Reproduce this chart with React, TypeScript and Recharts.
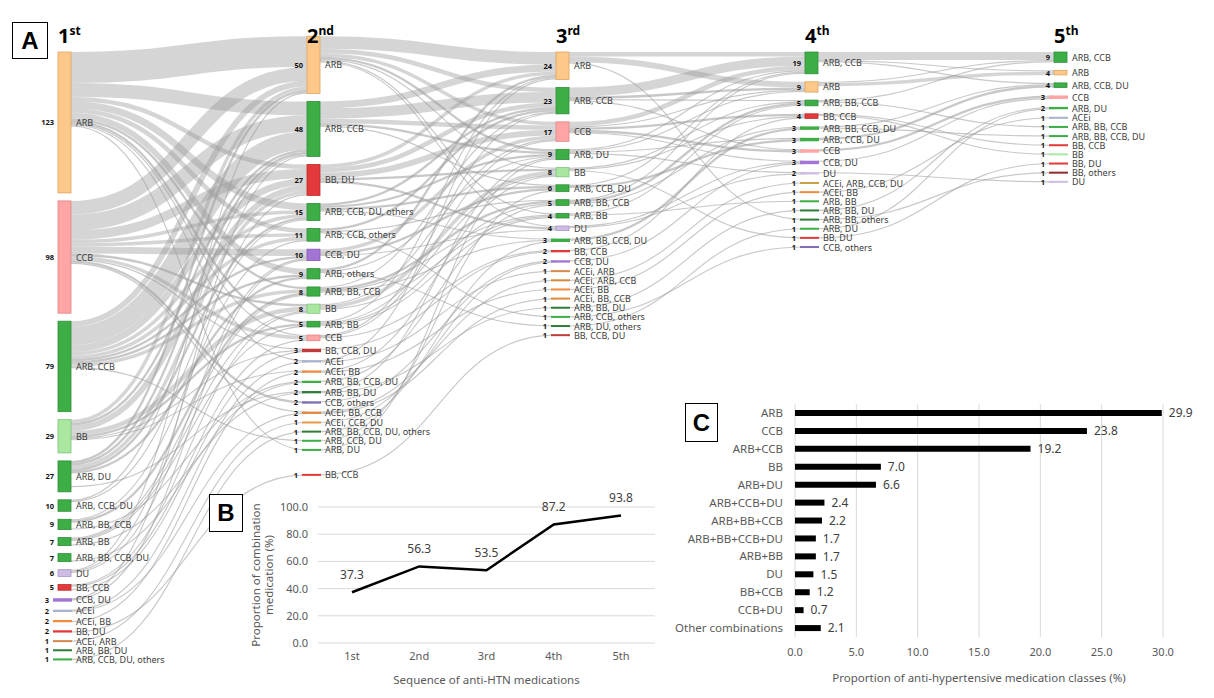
import React from 'react';
import { Sankey, LineChart, Line, XAxis, YAxis, CartesianGrid, LabelList, BarChart, Bar, Label } from 'recharts';

// ---------------- Panel A : Sankey data ----------------
const COL1_NAMES = ['ARB', 'CCB', 'ARB, CCB', 'BB', 'ARB, DU', 'ARB, CCB, DU', 'ARB, BB, CCB', 'ARB, BB', 'ARB, BB, CCB, DU', 'DU', 'BB, CCB', 'CCB, DU', 'ACEi', 'ACEi, BB', 'BB, DU', 'ACEi, ARB', 'ARB, BB, DU', 'ARB, CCB, DU, others'];
const COL1_COUNTS = [123, 98, 79, 29, 27, 10, 9, 7, 7, 6, 5, 3, 2, 2, 2, 1, 1, 1];

const COL2_NAMES = ['ARB', 'ARB, CCB', 'BB, DU', 'ARB, CCB, DU, others', 'ARB, CCB, others', 'CCB, DU', 'ARB, others', 'ARB, BB, CCB', 'BB', 'ARB, BB', 'CCB', 'BB, CCB, DU', 'ACEi', 'ACEi, BB', 'ARB, BB, CCB, DU', 'ARB, BB, DU', 'CCB, others', 'ACEi, BB, CCB', 'ACEi, CCB, DU', 'ARB, BB, CCB, DU, others', 'ARB, CCB, DU', 'ARB, DU', 'BB, CCB'];
const COL2_COUNTS = [50, 48, 27, 15, 11, 10, 9, 8, 8, 5, 5, 3, 2, 2, 2, 2, 2, 2, 1, 1, 1, 1, 1];

const COL3_NAMES = ['ARB', 'ARB, CCB', 'CCB', 'ARB, DU', 'BB', 'ARB, CCB, DU', 'ARB, BB, CCB', 'ARB, BB', 'DU', 'ARB, BB, CCB, DU', 'BB, CCB', 'CCB, DU', 'ACEi, ARB', 'ACEi, ARB, CCB', 'ACEi, BB', 'ACEi, BB, CCB', 'ARB, BB, DU', 'ARB, CCB, others', 'ARB, DU, others', 'BB, CCB, DU'];
const COL3_COUNTS = [24, 23, 17, 9, 8, 6, 5, 4, 4, 3, 2, 2, 1, 1, 1, 1, 1, 1, 1, 1];

const COL4_NAMES = ['ARB, CCB', 'ARB', 'ARB, BB, CCB', 'BB, CCB', 'ARB, BB, CCB, DU', 'ARB, CCB, DU', 'CCB', 'CCB, DU', 'DU', 'ACEi, ARB, CCB, DU', 'ACEi, BB', 'ARB, BB', 'ARB, BB, DU', 'ARB, BB, others', 'ARB, DU', 'BB, DU', 'CCB, others'];
const COL4_COUNTS = [19, 9, 5, 4, 3, 3, 3, 3, 2, 1, 1, 1, 1, 1, 1, 1, 1];

const COL5_NAMES = ['ARB, CCB', 'ARB', 'ARB, CCB, DU', 'CCB', 'ARB, DU', 'ACEi', 'ARB, BB, CCB', 'ARB, BB, CCB, DU', 'BB, CCB', 'BB', 'BB, DU', 'BB, others', 'DU'];
const COL5_COUNTS = [9, 4, 4, 3, 2, 1, 1, 1, 1, 1, 1, 1, 1];

type Flow = [string, string, number];

const FLOW_1_2: Flow[] = [
  ['ARB', 'ARB', 27], ['ARB', 'ARB, CCB', 12], ['ARB', 'BB, DU', 4], ['ARB', 'ARB, CCB, DU, others', 6], ['ARB', 'ARB, CCB, others', 4], ['ARB', 'ARB, others', 5], ['ARB', 'ARB, BB, CCB', 2], ['ARB', 'ARB, BB', 2], ['ARB', 'CCB', 1], ['ARB', 'ACEi', 1], ['ARB', 'ARB, DU', 1],
  ['CCB', 'ARB', 12], ['CCB', 'ARB, CCB', 14], ['CCB', 'BB, DU', 8], ['CCB', 'ARB, CCB, DU, others', 3], ['CCB', 'ARB, CCB, others', 3], ['CCB', 'CCB, DU', 6], ['CCB', 'BB', 2], ['CCB', 'CCB', 3], ['CCB', 'BB, CCB, DU', 1], ['CCB', 'CCB, others', 2], ['CCB', 'ACEi, BB, CCB', 1],
  ['ARB, CCB', 'ARB', 5], ['ARB, CCB', 'ARB, CCB', 16], ['ARB, CCB', 'BB, DU', 6], ['ARB, CCB', 'ARB, CCB, DU, others', 3], ['ARB, CCB', 'ARB, CCB, others', 3], ['ARB, CCB', 'CCB, DU', 2], ['ARB, CCB', 'ARB, others', 2], ['ARB, CCB', 'ARB, BB, CCB', 3], ['ARB, CCB', 'ARB, CCB, DU', 1],
  ['BB', 'ARB', 3], ['BB', 'ARB, CCB', 2], ['BB', 'BB, DU', 5], ['BB', 'BB', 4], ['BB', 'ARB, BB', 2], ['BB', 'BB, CCB, DU', 1], ['BB', 'ACEi, BB', 1],
  ['ARB, DU', 'ARB', 2], ['ARB, DU', 'ARB, CCB', 2], ['ARB, DU', 'BB, DU', 3], ['ARB, DU', 'ARB, CCB, DU, others', 2], ['ARB, DU', 'ARB, others', 2], ['ARB, DU', 'ARB, BB, DU', 1],
  ['ARB, CCB, DU', 'ARB, CCB', 1], ['ARB, CCB, DU', 'ARB, CCB, DU, others', 1],
  ['ARB, BB, CCB', 'ARB, CCB, others', 1], ['ARB, BB, CCB', 'ARB, BB, CCB', 2], ['ARB, BB, CCB', 'ARB, BB, CCB, DU', 1],
  ['ARB, BB', 'ARB, BB, CCB', 1], ['ARB, BB', 'BB', 1], ['ARB, BB', 'ARB, BB', 1], ['ARB, BB', 'ARB, BB, DU', 1],
  ['ARB, BB, CCB, DU', 'ARB, BB, CCB, DU', 1],
  ['DU', 'ARB', 1], ['DU', 'BB, DU', 1], ['DU', 'CCB, DU', 1],
  ['BB, CCB', 'BB', 1], ['BB, CCB', 'CCB', 1], ['BB, CCB', 'BB, CCB, DU', 1],
  ['CCB, DU', 'ARB, CCB', 1], ['CCB, DU', 'CCB, DU', 1],
  ['ACEi', 'ACEi', 1], ['ACEi', 'ACEi, BB, CCB', 1],
  ['ACEi, BB', 'ACEi, BB', 1],
  ['BB, DU', 'BB, CCB', 1],
  ['ACEi, ARB', 'ACEi, CCB, DU', 1],
  ['ARB, CCB, DU, others', 'ARB, BB, CCB, DU, others', 1],
];

const FLOW_2_3: Flow[] = [
  ['ARB', 'ARB', 11], ['ARB', 'ARB, CCB', 4], ['ARB', 'CCB', 3], ['ARB', 'ARB, DU', 2], ['ARB', 'BB', 1], ['ARB', 'ARB, BB', 1], ['ARB', 'DU', 1],
  ['ARB, CCB', 'ARB', 6], ['ARB, CCB', 'ARB, CCB', 9], ['ARB, CCB', 'CCB', 4], ['ARB, CCB', 'ARB, DU', 2], ['ARB, CCB', 'ARB, CCB, DU', 1],
  ['BB, DU', 'ARB', 3], ['BB, DU', 'ARB, CCB', 4], ['BB, DU', 'CCB', 5], ['BB, DU', 'BB', 2], ['BB, DU', 'DU', 2],
  ['ARB, CCB, DU, others', 'ARB, CCB', 2], ['ARB, CCB, DU, others', 'ARB, DU', 2], ['ARB, CCB, DU, others', 'ARB, CCB, DU', 2], ['ARB, CCB, DU, others', 'ARB, BB, CCB, DU', 1],
  ['ARB, CCB, others', 'ARB, CCB', 2], ['ARB, CCB, others', 'ARB, BB, CCB', 1], ['ARB, CCB, others', 'ARB, CCB, others', 1],
  ['CCB, DU', 'CCB', 3], ['CCB, DU', 'ARB, CCB, DU', 2], ['CCB, DU', 'DU', 1],
  ['ARB, others', 'ARB', 2], ['ARB, others', 'ARB, DU', 1], ['ARB, others', 'ARB, DU, others', 1],
  ['ARB, BB, CCB', 'ARB, CCB', 1], ['ARB, BB, CCB', 'ARB, BB, CCB', 2], ['ARB, BB, CCB', 'ARB, BB', 1], ['ARB, BB, CCB', 'ARB, BB, CCB, DU', 1],
  ['BB', 'CCB', 1], ['BB', 'BB', 3], ['BB', 'ARB, BB', 1],
  ['ARB, BB', 'ARB', 1], ['ARB, BB', 'BB', 1], ['ARB, BB', 'ARB, BB, CCB', 1], ['ARB, BB', 'ARB, BB', 1],
  ['CCB', 'ARB, CCB', 1], ['CCB', 'CCB', 1], ['CCB', 'BB, CCB', 1],
  ['BB, CCB, DU', 'BB, CCB', 1],
  ['ACEi', 'ARB', 1], ['ACEi', 'ACEi, ARB', 1],
  ['ACEi, BB', 'BB', 1], ['ACEi, BB', 'ACEi, BB', 1],
  ['ARB, BB, CCB, DU', 'ARB, BB, CCB', 1],
  ['ARB, BB, DU', 'ARB, DU', 1], ['ARB, BB, DU', 'ARB, BB, DU', 1],
  ['CCB, others', 'CCB, DU', 1],
  ['ACEi, BB, CCB', 'ACEi, ARB, CCB', 1], ['ACEi, BB, CCB', 'ACEi, BB, CCB', 1],
  ['ACEi, CCB, DU', 'CCB, DU', 1],
  ['ARB, BB, CCB, DU, others', 'ARB, BB, CCB, DU', 1],
  ['ARB, CCB, DU', 'ARB, CCB, DU', 1],
  ['ARB, DU', 'ARB, DU', 1],
  ['BB, CCB', 'BB, CCB, DU', 1],
];

const FLOW_3_4: Flow[] = [
  ['ARB', 'ARB, CCB', 4], ['ARB', 'ARB', 5], ['ARB', 'ARB, BB, others', 1],
  ['ARB, CCB', 'ARB, CCB', 8], ['ARB, CCB', 'ARB', 2], ['ARB, CCB', 'ARB, BB, CCB', 1], ['ARB, CCB', 'CCB', 1],
  ['CCB', 'ARB, CCB', 4], ['CCB', 'ARB', 1], ['CCB', 'BB, CCB', 2], ['CCB', 'CCB', 2], ['CCB', 'CCB, DU', 1],
  ['ARB, DU', 'ARB, CCB', 1], ['ARB, DU', 'ARB', 1], ['ARB, DU', 'ARB, CCB, DU', 1], ['ARB, DU', 'DU', 1],
  ['BB', 'ARB, BB, CCB', 1], ['BB', 'BB, CCB', 1], ['BB', 'BB, DU', 1],
  ['ARB, CCB, DU', 'ARB, CCB', 1], ['ARB, CCB, DU', 'ARB, CCB, DU', 2],
  ['ARB, BB, CCB', 'ARB, CCB', 1], ['ARB, BB, CCB', 'ARB, BB, CCB', 2], ['ARB, BB, CCB', 'ARB, BB, CCB, DU', 1],
  ['ARB, BB', 'ARB, BB, CCB', 1], ['ARB, BB', 'ARB, BB', 1],
  ['DU', 'CCB, DU', 1], ['DU', 'DU', 1],
  ['ARB, BB, CCB, DU', 'ARB, BB, CCB, DU', 2],
  ['BB, CCB', 'BB, CCB', 1],
  ['CCB, DU', 'CCB, DU', 1],
  ['ACEi, ARB, CCB', 'ACEi, ARB, CCB, DU', 1],
  ['ACEi, BB', 'ACEi, BB', 1],
  ['ARB, BB, DU', 'ARB, BB, DU', 1],
  ['ARB, CCB, others', 'CCB, others', 1],
  ['ARB, DU, others', 'ARB, DU', 1],
];

const FLOW_4_5: Flow[] = [
  ['ARB, CCB', 'ARB, CCB', 7], ['ARB, CCB', 'ARB', 1], ['ARB, CCB', 'ARB, CCB, DU', 1],
  ['ARB', 'ARB, CCB', 1], ['ARB', 'ARB', 3],
  ['ARB, BB, CCB', 'ARB, CCB', 1], ['ARB, BB, CCB', 'ARB, BB, CCB', 1],
  ['BB, CCB', 'BB, CCB', 1], ['BB, CCB', 'BB', 1],
  ['ARB, BB, CCB, DU', 'ARB, CCB, DU', 1], ['ARB, BB, CCB, DU', 'ARB, BB, CCB, DU', 1],
  ['ARB, CCB, DU', 'ARB, CCB, DU', 2],
  ['CCB', 'CCB', 2],
  ['CCB, DU', 'CCB', 1],
  ['DU', 'DU', 1],
  ['ACEi, BB', 'ACEi', 1],
  ['ARB, BB, DU', 'ARB, DU', 1],
  ['ARB, BB, others', 'BB, others', 1],
  ['ARB, DU', 'ARB, DU', 1],
  ['BB, DU', 'BB, DU', 1],
];

const STAGE_SUFFIX: [string, string][] = [['1', 'st'], ['2', 'nd'], ['3', 'rd'], ['4', 'th'], ['5', 'th']];

// ---------------- Panel B data ----------------
const STAGES = ['1st', '2nd', '3rd', '4th', '5th'];
const COMBO_PCT = [37.3, 56.3, 53.5, 87.2, 93.8];
const B_TICKS = [0, 20, 40, 60, 80, 100];

// ---------------- Panel C data ----------------
const CLASS_NAMES = ['ARB', 'CCB', 'ARB+CCB', 'BB', 'ARB+DU', 'ARB+CCB+DU', 'ARB+BB+CCB', 'ARB+BB+CCB+DU', 'ARB+BB', 'DU', 'BB+CCB', 'CCB+DU', 'Other combinations'];
const CLASS_PCT = [29.9, 23.8, 19.2, 7.0, 6.6, 2.4, 2.2, 1.7, 1.7, 1.5, 1.2, 0.7, 2.1];
const C_TICKS = [0, 5, 10, 15, 20, 25, 30];

// ---------------- styles ----------------
const GREEN: [string, string] = ['#3DAE46', '#2F8E37'];
const DKGREEN: [string, string] = ['#2E7D3A', '#2E7D3A'];
const NODE_COLORS: Record<string, [string, string]> = {
  'ARB': ['#FDC98B', '#E2A25A'],
  'CCB': ['#FFA5A5', '#E08585'],
  'ARB, CCB': GREEN,
  'BB': ['#AAE8A2', '#7DC27A'],
  'ARB, DU': GREEN,
  'ARB, CCB, DU': GREEN,
  'ARB, BB, CCB': GREEN,
  'ARB, BB': GREEN,
  'ARB, BB, CCB, DU': GREEN,
  'ARB, CCB, others': GREEN,
  'ARB, others': GREEN,
  'ARB, CCB, DU, others': GREEN,
  'DU': ['#CDBCE3', '#A895C4'],
  'BB, CCB': ['#E23A3A', '#C02A2A'],
  'BB, DU': ['#E23A3A', '#C02A2A'],
  'CCB, DU': ['#A274D4', '#8558B8'],
  'ACEi': ['#A8B2CF', '#8890B0'],
  'ACEi, BB': ['#EF8A3E', '#D0702A'],
  'ACEi, ARB': ['#D8874A', '#B8703A'],
  'ACEi, BB, CCB': ['#E2883A', '#C0702A'],
  'ACEi, CCB, DU': ['#E89A4A', '#C8803A'],
  'ACEi, ARB, CCB': ['#D48A3E', '#B4702E'],
  'ACEi, ARB, CCB, DU': ['#C9A045', '#A98530'],
  'ARB, BB, DU': DKGREEN,
  'ARB, BB, CCB, DU, others': DKGREEN,
  'ARB, DU, others': DKGREEN,
  'ARB, BB, others': DKGREEN,
  'BB, CCB, DU': ['#C23A3C', '#A02A2C'],
  'CCB, others': ['#7E6CB8', '#65559A'],
  'BB, others': ['#8E2E2E', '#8E2E2E'],
};

const FONT = "'Noto Sans', 'DejaVu Sans', sans-serif";

const SK_W = 1214;
const SK_H = 698;
const NODE_PAD = 8;
const SK_MARGIN = { top: 52 - NODE_PAD, left: 58, right: 147, bottom: 38 };
const NODE_W = 13;
const EPS = 0.01;

// Builds the Sankey input. Each column gets an invisible tiny spacer on top and an
// invisible spacer at the bottom (fed by the patients who stopped treatment), so that
// every column fills the plot height and the library stacks the visible nodes from the top.
function buildSankey() {
  const columns = [
    { names: COL1_NAMES, counts: COL1_COUNTS },
    { names: COL2_NAMES, counts: COL2_COUNTS },
    { names: COL3_NAMES, counts: COL3_COUNTS },
    { names: COL4_NAMES, counts: COL4_COUNTS },
    { names: COL5_NAMES, counts: COL5_COUNTS },
  ];
  const flows = [FLOW_1_2, FLOW_2_3, FLOW_3_4, FLOW_4_5];
  const nodes: any[] = [];
  const index: Record<string, number>[] = [];
  const top: number[] = [];
  columns.forEach((col, c) => {
    top[c] = nodes.length;
    nodes.push({ name: '', dummy: true });
    index[c] = {};
    col.names.forEach((n) => {
      index[c][n] = nodes.length;
      nodes.push({ name: n, stage: c });
    });
  });
  const links: any[] = [];
  flows.forEach((fl, c) => {
    fl.forEach(([s, t, v]) => {
      links.push({ source: index[c][s], target: index[c + 1][t], value: v });
    });
  });

  const spacer: number[] = [];
  for (let d = 1; d <= 4; d++) {
    spacer[d] = nodes.length;
    nodes.push({ name: '', dummy: true });
  }
  const H = SK_H - SK_MARGIN.top - SK_MARGIN.bottom;
  const sums = columns.map((c) => c.counts.reduce((a, b) => a + b, 0));
  const r = (H - columns[0].names.length * NODE_PAD) / sums[0];
  const F: number[] = [0];
  for (let d = 1; d <= 4; d++) F[d] = (H - (columns[d].names.length + 1) * NODE_PAD) / r - sums[d];

  const drops: { src: number; amt: number; stage: number }[] = [];
  flows.forEach((fl, c) => {
    columns[c].names.forEach((n, i) => {
      const out = fl.filter((f) => f[0] === n).reduce((a, f) => a + f[2], 0);
      const rest = columns[c].counts[i] - out;
      if (rest > 0) drops.push({ src: index[c][n], amt: rest, stage: c });
    });
  });
  const d4 = drops.filter((d) => d.stage === 3).reduce((a, d) => a + d.amt, 0);
  const s = Math.max(0, F[4] - F[3] - d4);
  const cap: number[] = [0, F[1], F[2] - (F[1] - s), F[3] - F[2]];
  const addDrop = (src: number, amt: number, minDepth: number) => {
    let left = amt;
    for (let d = minDepth; d <= 3 && left > 1e-9; d++) {
      const take = Math.min(left, cap[d]);
      if (take > 1e-9) {
        links.push({ source: src, target: spacer[d], value: take, hidden: true });
        cap[d] -= take;
        left -= take;
      }
    }
    if (left > 1e-9) links.push({ source: src, target: spacer[4], value: left, hidden: true });
  };
  drops.filter((d) => d.stage === 2).forEach((d) => addDrop(d.src, d.amt, 3));
  drops.filter((d) => d.stage === 0).forEach((d) => addDrop(d.src, d.amt, 1));
  drops.filter((d) => d.stage === 1).forEach((d) => addDrop(d.src, d.amt, 2));
  drops.filter((d) => d.stage === 3).forEach((d) => links.push({ source: d.src, target: spacer[4], value: d.amt, hidden: true }));
  links.push({ source: spacer[1], target: spacer[2], value: F[1] - s, hidden: true });
  if (s > 0) links.push({ source: spacer[1], target: spacer[4], value: s, hidden: true });
  links.push({ source: spacer[2], target: spacer[3], value: F[2], hidden: true });
  links.push({ source: spacer[3], target: spacer[4], value: F[3], hidden: true });

  const lastCol1 = index[0][COL1_NAMES[COL1_NAMES.length - 1]];
  links.push({ source: top[0], target: spacer[1], value: EPS, hidden: true });
  links.push({ source: lastCol1, target: top[1], value: EPS, hidden: true });
  links.push({ source: top[1], target: spacer[2], value: EPS, hidden: true });
  links.push({ source: spacer[1], target: top[2], value: EPS, hidden: true });
  links.push({ source: top[2], target: spacer[3], value: EPS, hidden: true });
  links.push({ source: spacer[2], target: top[3], value: EPS, hidden: true });
  links.push({ source: top[3], target: spacer[4], value: EPS, hidden: true });
  links.push({ source: spacer[3], target: top[4], value: EPS, hidden: true });
  return { nodes, links };
}

const SANKEY_DATA = buildSankey();

const renderNode = (props: any) => {
  const { x, y, width, height, payload } = props;
  if (!payload || payload.dummy) return <g />;
  const v = Math.round(payload.value);
  const [fill, stroke] = NODE_COLORS[payload.name] || GREEN;
  const small = v <= 3;
  const rx = small ? x - 5 : x;
  const rw = small ? width + 6 : width;
  const rh = Math.max(height, 2);
  const cy = y + height / 2;
  return (
    <g>
      <rect x={rx} y={cy - rh / 2} width={rw} height={rh} fill={fill} stroke={small ? 'none' : stroke} strokeWidth={0.8} />
      <text x={rx - 4} y={cy} textAnchor="end" dominantBaseline="central" fontSize={7.5} fontWeight={700} fill="#111" fontFamily={FONT}>{v}</text>
      <text x={x + width + 5} y={cy} textAnchor="start" dominantBaseline="central" fontSize={9} fill="#3c3c3c" fontFamily={FONT}>{payload.name}</text>
    </g>
  );
};

const renderLink = (props: any) => {
  const { sourceX, sourceY, sourceControlX, targetX, targetY, targetControlX, linkWidth, payload } = props;
  if (!payload || payload.hidden || (payload.target && payload.target.dummy) || (payload.source && payload.source.dummy)) return <g />;
  const thin = linkWidth < 3;
  return (
    <path
      d={`M${sourceX},${sourceY}C${sourceControlX},${sourceY} ${targetControlX},${targetY} ${targetX},${targetY}`}
      fill="none"
      stroke="#9a9a9a"
      strokeOpacity={thin ? 0.55 : 0.42}
      strokeWidth={Math.max(linkWidth, 1)}
    />
  );
};

const renderYTitle = (props: any) => {
  const vb = props.viewBox || { x: 0, y: 22, width: 78, height: 136 };
  const cy = vb.y + vb.height / 2;
  const x1 = vb.x + 15;
  const x2 = vb.x + 28;
  return (
    <g>
      <text x={x1} y={cy} transform={`rotate(-90, ${x1}, ${cy})`} textAnchor="middle" dominantBaseline="central" fontSize={11.5} fill="#595959" fontFamily={FONT}>Proportion of combination</text>
      <text x={x2} y={cy} transform={`rotate(-90, ${x2}, ${cy})`} textAnchor="middle" dominantBaseline="central" fontSize={11.5} fill="#595959" fontFamily={FONT}>medication (%)</text>
    </g>
  );
};

const boxStyle = (left: number, top: number, w: number, h: number): React.CSSProperties => ({
  position: 'absolute', left, top, width: w, height: h, border: '1.5px solid #000', boxSizing: 'border-box',
  display: 'flex', alignItems: 'center', justifyContent: 'center', fontFamily: "'Liberation Sans', Arial, sans-serif",
  fontWeight: 700, fontSize: 24, color: '#000', background: '#fff',
});

export default function App() {
  const lineData = STAGES.map((s, i) => ({ stage: s, pct: COMBO_PCT[i] }));
  const barData = CLASS_NAMES.map((n, i) => ({ name: n, pct: CLASS_PCT[i] }));
  const colStep = (SK_W - SK_MARGIN.left - SK_MARGIN.right - NODE_W) / 4;
  const tickStyle = { fontSize: 11, fill: '#595959', fontFamily: FONT };
  return (
    <div style={{ position: 'absolute', left: 0, top: 0, width: 1214, height: 698, background: '#fff', fontFamily: FONT, overflow: 'hidden' }}>
      <div style={{ position: 'absolute', left: 0, top: 0 }}>
        <Sankey
          width={SK_W}
          height={SK_H}
          data={SANKEY_DATA}
          margin={SK_MARGIN}
          nodeWidth={NODE_W}
          nodePadding={NODE_PAD}
          sort={false}
          node={renderNode}
          link={renderLink}
        />
      </div>

      {STAGE_SUFFIX.map(([d, s], i) => (
        <div key={d} style={{ position: 'absolute', left: SK_MARGIN.left + i * colStep, top: 22, fontFamily: FONT, fontWeight: 700, color: '#000', whiteSpace: 'nowrap' }}>
          <span style={{ fontSize: 20 }}>{d}</span>
          <span style={{ fontSize: 12, position: 'relative', top: -8 }}>{s}</span>
        </div>
      ))}

      <div style={boxStyle(12, 22, 36, 37)}>A</div>

      <div style={{ position: 'absolute', left: 240, top: 485 }}>
        <LineChart width={420} height={210} data={lineData} margin={{ top: 22, right: 5, bottom: 0, left: 0 }}>
          <CartesianGrid vertical={false} stroke="#d9d9d9" />
          <XAxis dataKey="stage" axisLine={false} tickLine={false} height={52} tickMargin={3} tick={tickStyle} padding={{ left: 34, right: 34 }}>
            <Label value="Sequence of anti-HTN medications" position="insideBottom" offset={11} style={{ fontSize: 11.5, fill: '#595959', fontFamily: FONT }} />
          </XAxis>
          <YAxis domain={[0, 100]} ticks={B_TICKS} tickFormatter={(v: number) => v.toFixed(1)} axisLine={false} tickLine={false} width={78} tickMargin={4} tick={tickStyle}>
            <Label content={renderYTitle} />
          </YAxis>
          <Line dataKey="pct" stroke="#000" strokeWidth={2.5} dot={false} isAnimationActive={false}>
            <LabelList dataKey="pct" position="top" offset={13} formatter={(v: any) => Number(v).toFixed(1)} style={{ fontSize: 12, fill: '#404040', fontFamily: FONT }} />
          </Line>
        </LineChart>
      </div>
      <div style={boxStyle(209, 494, 34, 38)}>B</div>

      <div style={{ position: 'absolute', left: 660, top: 395 }}>
        <BarChart layout="vertical" width={554} height={303} data={barData} margin={{ top: 9, right: 51, bottom: 0, left: 0 }}>
          <CartesianGrid horizontal={false} stroke="#d9d9d9" />
          <XAxis type="number" domain={[0, 30]} ticks={C_TICKS} tickFormatter={(v: number) => v.toFixed(1)} axisLine={false} tickLine={false} height={61} tickMargin={5} tick={tickStyle}>
            <Label value="Proportion of anti-hypertensive medication classes (%)" position="insideBottom" offset={16} style={{ fontSize: 11.5, fill: '#595959', fontFamily: FONT }} />
          </XAxis>
          <YAxis type="category" dataKey="name" width={135} axisLine={false} tickLine={false} tickMargin={6} interval={0} tick={{ fontSize: 11.5, fill: '#595959', fontFamily: FONT }} />
          <Bar dataKey="pct" fill="#000" barSize={6} isAnimationActive={false}>
            <LabelList dataKey="pct" position="right" offset={7} formatter={(v: any) => Number(v).toFixed(1)} style={{ fontSize: 12, fill: '#404040', fontFamily: FONT }} />
          </Bar>
        </BarChart>
      </div>
      <div style={boxStyle(685, 403, 33, 39)}>C</div>
    </div>
  );
}
